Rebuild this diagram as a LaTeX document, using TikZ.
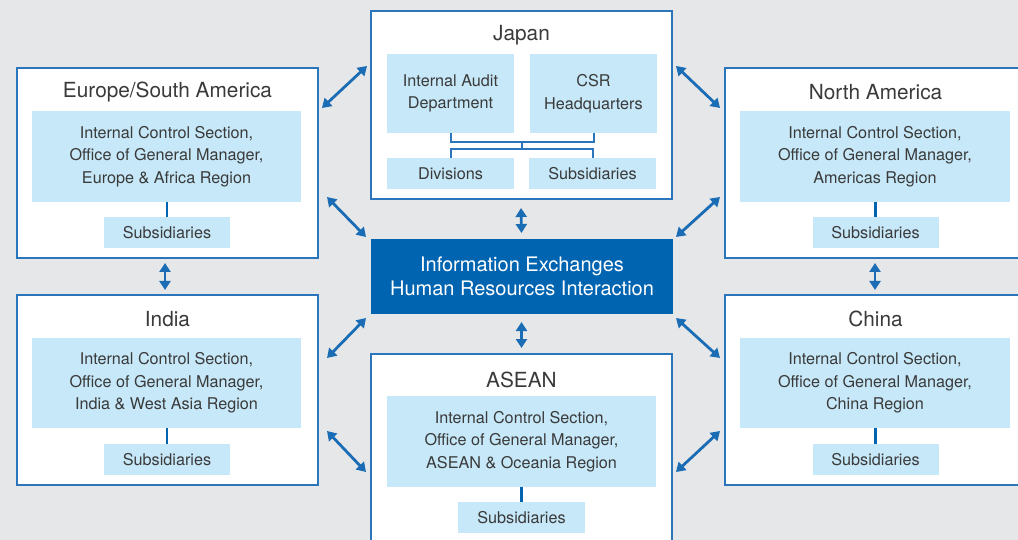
\documentclass[tikz,border=0pt]{standalone}
\usepackage{fontspec}
\setmainfont{TeX Gyre Heros}
\usetikzlibrary{arrows.meta,calc}
\definecolor{bg}{HTML}{E6E7E9}
\definecolor{bord}{HTML}{2B75BD}
\definecolor{lblue}{HTML}{C6E8F8}
\definecolor{cblue}{HTML}{0064B1}
\definecolor{arrc}{HTML}{1A6DB5}
\definecolor{txt}{HTML}{3A3A3A}
\tikzset{
  region/.style={draw=bord, line width=1.5pt, fill=white, inner sep=0pt, outer sep=0pt, anchor=north west, minimum width=301pt},
  inbox/.style={fill=lblue, inner sep=0pt, outer sep=0pt, text=txt, align=center, font=\fontsize{16.2}{22.5}\selectfont},
  subbox/.style={inbox, minimum width=126pt, minimum height=31pt},
  ttl/.style={text=txt, font=\fontsize{20.8}{24}\selectfont, inner sep=0pt},
  link/.style={draw=bord, line width=2pt},
  stem/.style={draw=cblue, line width=2.8pt},
  arr/.style={draw=arrc, line width=2.8pt, {Triangle[length=9pt,width=11pt]}-{Triangle[length=9pt,width=11pt]}}
}
\begin{document}
\begin{tikzpicture}[x=1pt,y=-1pt]
\useasboundingbox (0,0) rectangle (1018,540);
\clip (0,0) rectangle (1018,540);
\fill[bg] (0,0) rectangle (1018,540);

% region boxes
\node[region, minimum height=188pt] (jp) at (371,11) {};
\node[region, minimum height=190pt] (eu) at (17,68) {};
\node[region, minimum height=190pt] (na) at (725,68) {};
\node[region, minimum height=190pt] (in) at (17,295) {};
\node[region, minimum height=190pt] (ch) at (725,295) {};
\node[region, minimum height=200pt] (as) at (371,354) {};
\node[fill=cblue, inner sep=0pt, outer sep=0pt, anchor=north west, minimum width=302pt, minimum height=75pt, text=white, align=center, font=\fontsize{20}{24}\selectfont] (ct) at (371,239) {Information Exchanges\\Human Resources Interaction};

% titles
\node[ttl] (jpt) at (521.5,35.5) {Japan};
\node[ttl] (eut) at (167.5,92.5) {Europe/South America};
\node[ttl] (nat) at (875.5,92.5) {North America};
\node[ttl] (int) at (167.5,319) {India};
\node[ttl] (cht) at (875.5,319) {China};
\node[ttl] (ast) at (521.5,379.5) {ASEAN};

% Japan inner
\node[inbox, anchor=north west, minimum width=127pt, minimum height=79pt] (iad) at (387,54) {Internal Audit\\Department};
\node[inbox, anchor=north west, minimum width=127pt, minimum height=79pt] (csr) at (530,54) {CSR\\Headquarters};
\node[subbox, anchor=north west, minimum width=127pt] (div) at (387,158) {Divisions};
\node[subbox, anchor=north west, minimum width=127pt] (jsub) at (529,158) {Subsidiaries};
\coordinate (jm1) at (521.5,142);
\coordinate (jm2) at (521.5,149);
\draw[link] (iad.south) |- (jm1) -| (csr.south);
\draw[link] (jm1) -- (jm2);
\draw[link] (div.north) |- (jm2) -| (jsub.north);

% regional inner boxes
\node[inbox, anchor=north west, minimum width=269pt, minimum height=91pt] (euin) at (32,111) {Internal Control Section,\\Office of General Manager,\\Europe \& Africa Region};
\node[subbox, anchor=north] (eusub) at (167,217) {Subsidiaries};
\draw[stem] (eusub.north) -- (eusub.north |- euin.south);

\node[inbox, anchor=north west, minimum width=270pt, minimum height=91pt] (nain) at (740,111) {Internal Control Section,\\Office of General Manager,\\Americas Region};
\node[subbox, anchor=north] (nasub) at (875.5,217) {Subsidiaries};
\draw[stem] (nasub.north) -- (nasub.north |- nain.south);

\node[inbox, anchor=north west, minimum width=269pt, minimum height=90pt] (inin) at (32,338) {Internal Control Section,\\Office of General Manager,\\India \& West Asia Region};
\node[subbox, anchor=north] (insub) at (167,444) {Subsidiaries};
\draw[stem] (insub.north) -- (insub.north |- inin.south);

\node[inbox, anchor=north west, minimum width=270pt, minimum height=90pt] (chin) at (740,338) {Internal Control Section,\\Office of General Manager,\\China Region};
\node[subbox, anchor=north] (chsub) at (875.5,444) {Subsidiaries};
\draw[stem] (chsub.north) -- (chsub.north |- chin.south);

\node[inbox, anchor=north west, minimum width=269pt, minimum height=91pt] (asin) at (387,396) {Internal Control Section,\\Office of General Manager,\\ASEAN \& Oceania Region};
\node[subbox, anchor=north, minimum width=127pt] (assub) at (521.5,502) {Subsidiaries};
\draw[stem] (assub.north) -- (assub.north |- asin.south);

% arrows
\draw[arr] ([shift={(4,40)}]eu.north east) -- ([shift={(-4,55)}]jp.north west);
\draw[arr] ([shift={(9,-61)}]eu.south east) -- ([shift={(-5,-2)}]ct.north west);
\draw[arr] ([shift={(4,55)}]jp.north east) -- ([shift={(-5,40)}]na.north west);
\draw[arr] ([shift={(3,-2)}]ct.north east) -- ([shift={(-5,-61)}]na.south west);
\draw[arr] ([shift={(9,63)}]in.north east) -- ([shift={(-5,4)}]ct.south west);
\draw[arr] ([shift={(9,136)}]in.north east) -- ([shift={(-5,118)}]as.north west);
\draw[arr] ([shift={(3,4)}]ct.south east) -- ([shift={(-5,63)}]ch.north west);
\draw[arr] ([shift={(4,118)}]as.north east) -- ([shift={(-5,136)}]ch.north west);
\draw[arr] ([shift={(-0.5,9)}]jp.south) -- ([shift={(-0.5,-6)}]ct.north);
\draw[arr] ([shift={(-0.5,8)}]ct.south) -- ([shift={(0,-6)}]as.north);
\draw[arr] ([shift={(-2.5,5)}]eu.south) -- ([shift={(-2.5,-5)}]in.north);
\draw[arr] ([shift={(-0.5,5)}]na.south) -- ([shift={(-0.5,-5)}]ch.north);
\end{tikzpicture}
\end{document}
